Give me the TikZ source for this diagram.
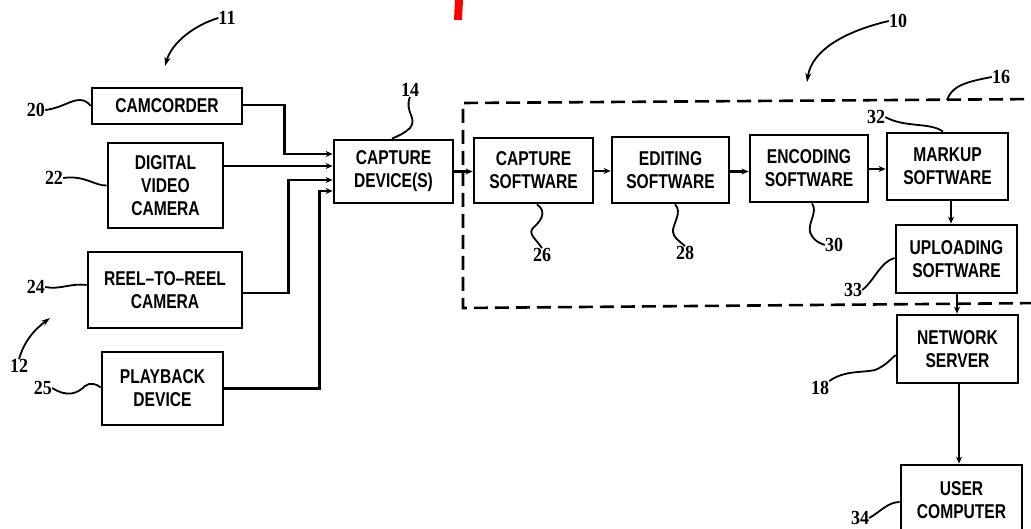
\documentclass[tikz,border=0pt]{standalone}
\usepackage{fontspec}
\setmainfont{Liberation Sans}
\newfontfamily\boxfont[FakeStretch=0.78]{Liberation Sans}
\newfontfamily\numfont[FakeStretch=0.9]{Liberation Serif}
\usetikzlibrary{arrows.meta}
\tikzset{
  x=1pt, y=1pt,
  blk/.style={draw, line width=2.8pt, rectangle, align=center, inner sep=0pt,
    font=\boxfont\bfseries\fontsize{20}{23}\selectfont},
  conn/.style={line width=2.8pt},
  arr/.style={conn, -{Stealth[length=7pt,width=6pt]}},
  lead/.style={line width=1.8pt},
  leadarr/.style={lead, -{Stealth[length=9pt,width=6pt]}},
  num/.style={font=\numfont\bfseries\fontsize{20}{20}\selectfont, inner sep=0pt},
  grp/.style={line width=2.6pt, dash pattern=on 14pt off 7pt},
}
\begin{document}
\begin{tikzpicture}
\useasboundingbox (0,0) rectangle (1031,-529);
\clip (0,0) rectangle (1031,-529);
\fill[white] (0,0) rectangle (1031,-529);
% red mark
\fill[red] (455,0) -- (463,0) -- (462,-20) -- (454,-20) -- cycle;

% left-hand source boxes
\node[blk, minimum width=150pt, minimum height=36pt] (cam) at (167,-106) {CAMCORDER};
\node[blk, minimum width=115pt, minimum height=85pt] (dvc) at (165.5,-185.5) {DIGITAL\\VIDEO\\CAMERA};
\node[blk, minimum width=154pt, minimum height=76pt] (reel) at (165,-290) {REEL–TO–REEL\\CAMERA};
\node[blk, minimum width=121pt, minimum height=73pt] (play) at (162.5,-388.5) {PLAYBACK\\DEVICE};
\node[blk, minimum width=119pt, minimum height=63pt] (capdev) at (393.5,-171.5) {CAPTURE\\DEVICE(S)};

% software boxes
\node[blk, minimum width=119pt, minimum height=65pt] (capsw) at (533.5,-170.5) {CAPTURE\\SOFTWARE};
\node[blk, minimum width=117pt, minimum height=66pt] (edit) at (670.5,-170) {EDITING\\SOFTWARE};
\node[blk, minimum width=118pt, minimum height=67pt] (enc) at (809,-168.5) {ENCODING\\SOFTWARE};
\node[blk, minimum width=121pt, minimum height=67pt] (markup) at (947.5,-166.5) {MARKUP\\SOFTWARE};
\node[blk, minimum width=121pt, minimum height=68pt] (upload) at (956.5,-259) {UPLOADING\\SOFTWARE};
\node[blk, minimum width=121pt, minimum height=68pt] (netsrv) at (957.5,-349) {NETWORK\\SERVER};
\node[blk, minimum width=121pt, minimum height=70pt] (user) at (961.5,-500) {USER\\COMPUTER};

% dashed group 16
\draw[grp] (1045,-99) -- (463,-103) -- (463,-308) -- (1045,-303);

% connectors into capture device
\draw[arr] ([yshift=1pt]cam.east) -- ++(41,0) |- ([yshift=17.5pt]capdev.west);
\draw[arr] ([yshift=19.5pt]dvc.east) -- ([yshift=5.5pt]capdev.west);
\draw[arr] ([yshift=-3pt]reel.east) -- ++(45,0) |- ([yshift=-8.5pt]capdev.west);
\draw[arr] (play.east) -- ++(95,0) |- ([yshift=-19.5pt]capdev.west);

% chain
\draw[arr] (capdev.east) -- (capdev.east -| capsw.west);
\draw[arr] ([yshift=-0.5pt]capsw.east) -- ([yshift=-0.5pt]capsw.east -| edit.west);
\draw[arr] ([yshift=-1.5pt]edit.east) -- ([yshift=-1.5pt]edit.east -| enc.west);
\draw[arr] ([yshift=-0.5pt]enc.east) -- ([yshift=-0.5pt]enc.east -| markup.west);
\draw[arr] ([xshift=3.5pt]markup.south) -- ([xshift=3.5pt]markup.south |- upload.north);
\draw[arr] ([xshift=0.5pt]upload.south) -- ([xshift=0.5pt]upload.south |- netsrv.north);
\draw[arr] ([xshift=1.5pt]netsrv.south) -- ([xshift=1.5pt]netsrv.south |- user.north);

% reference numerals
\node[num] (n11) at (227,-18) {11};
\draw[leadarr] (n11.west) .. controls (195,-25) and (172,-42) .. (165,-66);
\node[num] (n20) at (36,-110) {20};
\draw[lead] (n20.east) .. controls (62,-108) and (70,-100) .. (80,-100) .. controls (86,-100) and (89,-104) .. (cam.west);
\node[num] (n22) at (54,-178) {22};
\draw[lead] (n22.east) .. controls (85,-175) and (95,-186) .. (dvc.west);
\node[num] (n14) at (410,-90) {14};
\draw[lead] (n14.south) .. controls (404,-112) and (418,-118) .. (410,-128) .. controls (405,-133) and (398,-136) .. ([xshift=-1.5pt]capdev.north);
\node[num] (n24) at (36,-287) {24};
\draw[lead] (n24.east) .. controls (60,-290) and (70,-283) .. ([yshift=5pt]reel.west);
\node[num] (n12) at (19,-366) {12};
\draw[leadarr] (n12.north) .. controls (25,-338) and (38,-327) .. (50,-318);
\node[num] (n25) at (43,-388) {25};
\draw[lead] (n25.east) .. controls (68,-398) and (78,-393) .. (85,-386) .. controls (90,-382) and (97,-384) .. ([yshift=1pt]play.west);
\node[num] (n10) at (898,-21) {10};
\draw[leadarr] (n10.west) .. controls (850,-30) and (812,-48) .. (807,-82);
\node[num] (n16) at (1001,-77) {16};
\draw[lead] (n16.west) .. controls (965,-82) and (952,-86) .. (947,-100);
\node[num] (n32) at (876,-117) {32};
\draw[lead] (n32.east) .. controls (905,-128) and (930,-122) .. ([xshift=-4.5pt]markup.north);
\node[num] (n26) at (542,-255) {26};
\draw[lead] ([xshift=3.5pt]capsw.south) .. controls (548,-212) and (540,-222) .. (533,-228) .. controls (528,-234) and (535,-238) .. (n26.north);
\node[num] (n28) at (685,-253) {28};
\draw[lead] ([xshift=4.5pt]edit.south) .. controls (683,-212) and (672,-225) .. (673,-232) .. controls (674,-238) and (678,-240) .. (n28.north);
\node[num] (n30) at (834,-245) {30};
\draw[lead] ([xshift=3pt]enc.south) .. controls (818,-212) and (808,-222) .. (810,-232) .. controls (812,-238) and (816,-242) .. (n30.west);
\node[num] (n33) at (853,-290) {33};
\draw[lead] (n33.east) .. controls (875,-280) and (880,-262) .. ([yshift=1pt]upload.west);
\node[num] (n18) at (820,-388) {18};
\draw[lead] (n18.north east) .. controls (845,-370) and (862,-373) .. (875,-370) .. controls (885,-366) and (890,-360) .. ([yshift=-6pt]netsrv.west);
\node[num] (n34) at (860,-518) {34};
\draw[lead] (n34.east) .. controls (880,-512) and (888,-502) .. ([yshift=-2pt]user.west);
\end{tikzpicture}
\end{document}
